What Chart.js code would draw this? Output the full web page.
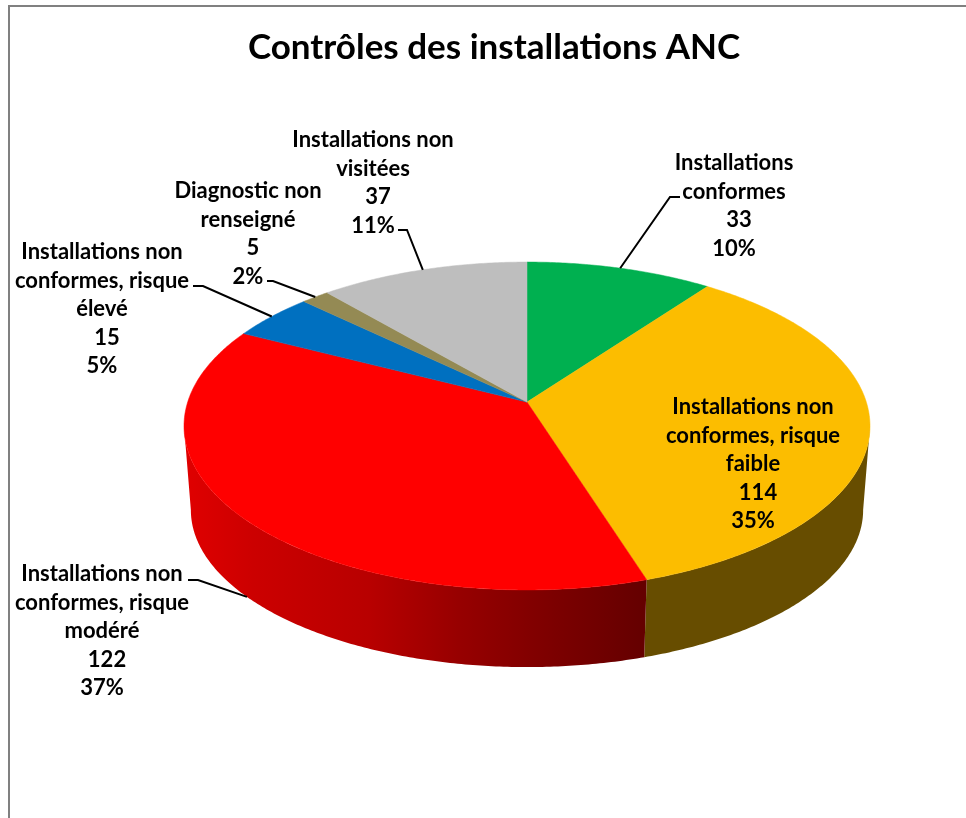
<!DOCTYPE html>
<html lang="fr">
<head>
  <meta charset="UTF-8">
  <title>Contrôles des installations ANC</title>
  <script src="https://cdn.jsdelivr.net/npm/chart.js"></script>
  <style>
    html, body { margin: 0; background: #fff; overflow: hidden; width: 966px; height: 818px; }
    canvas { position: absolute; left: 0; top: 0; }
    #cadre { position: absolute; left: 8px; top: 5px; right: 0; bottom: 0; border-top: 2px solid #808080; border-left: 2px solid #808080; pointer-events: none; }
  </style>
</head>
<body>
  <canvas id="camembert" width="988" height="818"></canvas>
  <div id="cadre"></div>

  <script>
    // data
    const categories = [
      'Installations conformes',
      'Installations non conformes, risque faible',
      'Installations non conformes, risque modéré',
      'Installations non conformes, risque élevé',
      'Diagnostic non renseigné',
      'Installations non visitées'
    ];
    const values = [33, 114, 122, 15, 5, 37];
    const percents = ['10%', '35%', '37%', '5%', '2%', '11%'];

    // styles
    const sliceColors = ['#00b050', '#fcbd00', '#ff0000', '#0070c0', '#948a54', '#bebebe'];
    const wallStops = [
      [[0, '#00692f']],
      [[0, '#674d00']],
      [[0, '#e00000'], [0.15, '#cc0000'], [0.4, '#b80000'], [0.6, '#960000'], [0.75, '#820000'], [1, '#640000']],
      [[0, '#004373']],
      [[0, '#585232']],
      [[0, '#727272']]
    ];

    // label layout: centre x, first line y, wrap width, then leader start and knee (null = inside the slice)
    const labelCentreX = [734, 753, 102, 102, 248, 373];
    const labelFirstY = [163, 407, 574, 252, 191, 140];
    const labelWrap = [130, 195, 195, 195, 165, 185];
    const leaderStart = [[680, 197], null, [188, 580], [193, 286], [267, 281], [398, 230]];
    const leaderKnee = [[670, 197], null, [198, 580], [203, 286], [273, 281], [407, 230]];
    const leaderOnBase = [false, false, true, false, false, false];
    const lineStep = 28.5;
    const labelFont = 'bold 22px Lato';

    // 3D look: pie shifted right of the title, apex shift (perspective tilt), and the two ellipses as ratios of the radius
    const pieShiftX = 33;
    const tilt = -0.146;
    const topFace = { rx: 1, ry: 0.478, dy: 0 };
    const baseFace = { rx: 0.98, ry: 0.458, dy: 84 };

    function project(arc, angle, face) {
      const px = Math.cos(angle), py = Math.sin(angle);
      const d = 1 + tilt * py;
      const x = px * Math.sqrt(1 - tilt * tilt) / d;
      const y = (py + tilt) / d;
      return {
        x: arc.x + pieShiftX + x * arc.outerRadius * face.rx,
        y: arc.y + y * arc.outerRadius * face.ry + face.dy
      };
    }

    function sampleAngles(start, end) {
      const n = Math.max(2, Math.ceil((end - start) / 0.01));
      return Array.from({ length: n + 1 }, (_, i) => start + (end - start) * i / n);
    }

    function drawWall(ctx, arc, stops) {
      // only the front of the rim shows, between the two silhouette points
      const edge = Math.asin(-tilt);
      const start = Math.max(arc.startAngle, edge);
      const end = Math.min(arc.endAngle, Math.PI - edge);
      if (end <= start) return;
      const angles = sampleAngles(start, end);
      const tops = angles.map(a => project(arc, a, topFace));
      const bases = angles.map(a => project(arc, a, baseFace)).reverse();
      const outline = tops.concat(bases);
      const xs = outline.map(p => p.x);
      const grad = ctx.createLinearGradient(Math.min(...xs), 0, Math.max(...xs), 0);
      stops.forEach(s => grad.addColorStop(s[0], s[1]));
      ctx.beginPath();
      outline.forEach((p, i) => (i ? ctx.lineTo(p.x, p.y) : ctx.moveTo(p.x, p.y)));
      ctx.closePath();
      ctx.fillStyle = grad;
      ctx.fill();
    }

    function drawTop(ctx, arc, color) {
      ctx.beginPath();
      ctx.moveTo(arc.x + pieShiftX, arc.y + tilt * arc.outerRadius * topFace.ry);
      sampleAngles(arc.startAngle, arc.endAngle).forEach(a => {
        const p = project(arc, a, topFace);
        ctx.lineTo(p.x, p.y);
      });
      ctx.closePath();
      ctx.fillStyle = color;
      ctx.strokeStyle = color;
      ctx.lineWidth = 0.5;
      ctx.fill();
      ctx.stroke();
    }

    function wrapText(ctx, text, width) {
      const lines = [];
      let line = '';
      text.split(' ').forEach(word => {
        const test = line ? line + ' ' + word : word;
        if (line && ctx.measureText(test).width > width) {
          lines.push(line);
          line = word;
        } else {
          line = test;
        }
      });
      lines.push(line);
      return lines;
    }

    function drawLabels(ctx, arcs) {
      ctx.textAlign = 'center';
      ctx.textBaseline = 'middle';
      ctx.font = labelFont;
      arcs.forEach((arc, i) => {
        if (leaderStart[i]) {
          const mid = (arc.startAngle + arc.endAngle) / 2;
          const end = project(arc, mid, leaderOnBase[i] ? baseFace : topFace);
          ctx.beginPath();
          ctx.moveTo(leaderStart[i][0], leaderStart[i][1]);
          ctx.lineTo(leaderKnee[i][0], leaderKnee[i][1]);
          ctx.lineTo(end.x, end.y);
          ctx.strokeStyle = '#000';
          ctx.lineWidth = 2;
          ctx.stroke();
        }
        ctx.fillStyle = '#000';
        const lines = wrapText(ctx, categories[i], labelWrap[i]);
        let y = labelFirstY[i];
        lines.forEach(l => {
          ctx.fillText(l, labelCentreX[i], y);
          y += lineStep;
        });
        // the value sits a little right of the centre in the original
        ctx.fillText(String(values[i]), labelCentreX[i] + 5, y);
        y += lineStep;
        ctx.fillText(percents[i], labelCentreX[i], y);
      });
    }

    const pie3d = {
      id: 'pie3d',
      beforeDatasetDraw(chart) {
        const ctx = chart.ctx;
        const arcs = chart.getDatasetMeta(0).data;
        arcs.forEach((arc, i) => drawWall(ctx, arc, wallStops[i]));
        arcs.forEach((arc, i) => drawTop(ctx, arc, sliceColors[i]));
        drawLabels(ctx, arcs);
        return false;
      }
    };

    // a tiny letter spacing stops Lato's "ti" ligature, the original font has none here
    document.getElementById('camembert').getContext('2d').letterSpacing = '0.01px';

    new Chart(document.getElementById('camembert'), {
      type: 'pie',
      data: {
        labels: categories,
        datasets: [{ data: values, backgroundColor: sliceColors, borderWidth: 0, radius: 343 }]
      },
      options: {
        responsive: false,
        animation: false,
        layout: { padding: { bottom: 40 } },
        plugins: {
          legend: { display: false },
          tooltip: { enabled: false },
          title: {
            display: true,
            text: 'Contrôles des installations ANC',
            color: '#000',
            font: { family: 'Lato', weight: 'bold', size: 35 },
            padding: { top: 27, bottom: 5 }
          }
        }
      },
      plugins: [pie3d]
    });
  </script>
</body>
</html>
